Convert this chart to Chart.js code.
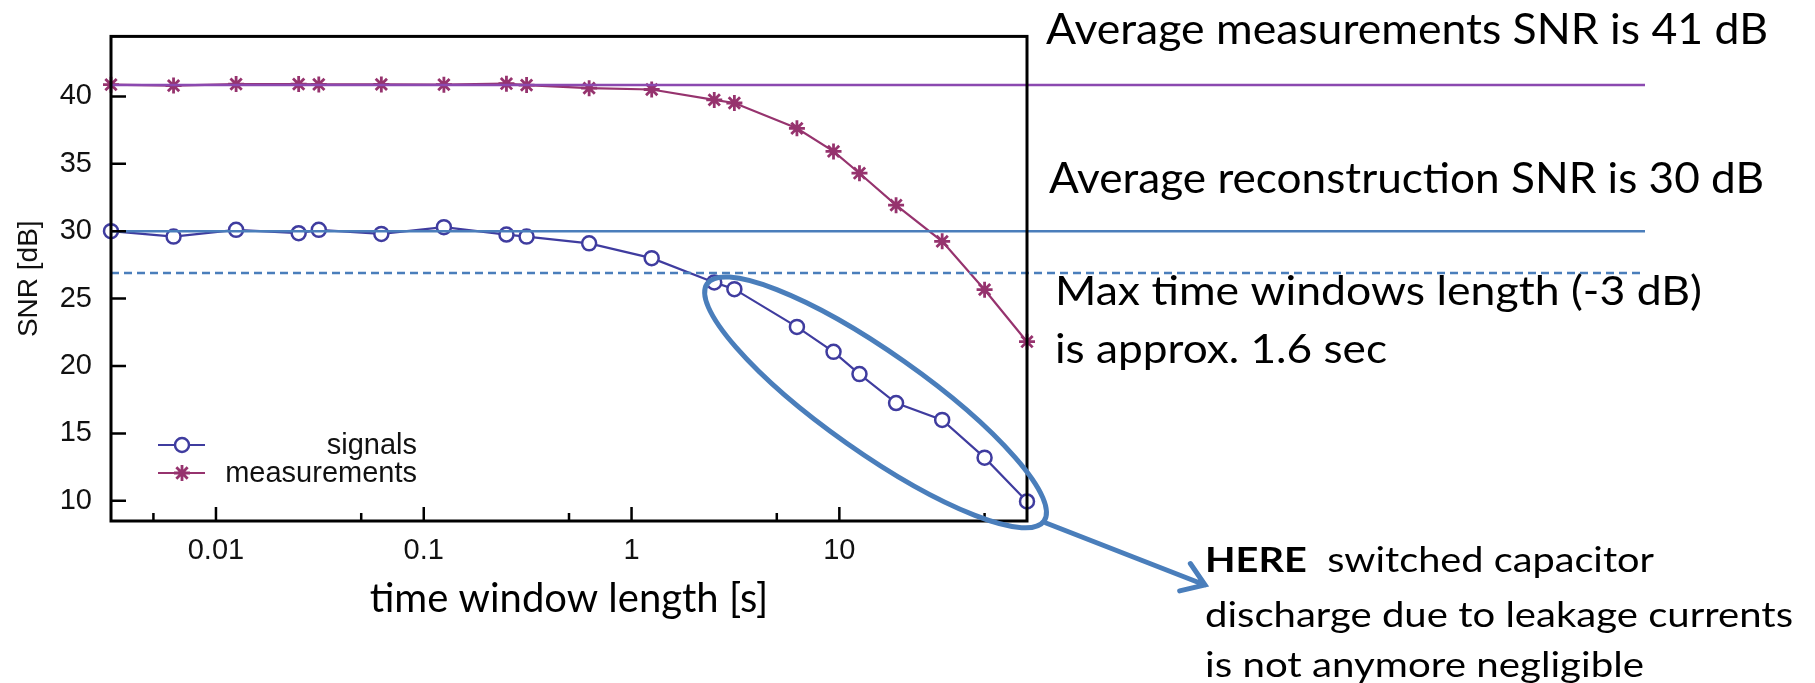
<!DOCTYPE html>
<html>
<head>
<meta charset="utf-8">
<title>SNR vs time window length</title>
<script src="https://cdn.jsdelivr.net/npm/chart.js@4.4.1/dist/chart.umd.min.js"></script>
<style>
  html, body { margin: 0; padding: 0; background: #fff; }
  #wrap { position: relative; width: 1815px; height: 683px; }
</style>
</head>
<body>
<div id="wrap"><canvas id="snrChart" width="1815" height="683"></canvas></div>
<script>
// time window lengths [s]
const windowLengths = [0.003125, 0.00625, 0.0125, 0.025, 0.03125, 0.0625, 0.125, 0.25, 0.3125, 0.625,
  1.25, 2.5, 3.125, 6.25, 9.375, 12.5, 18.75, 31.25, 50, 80];
// SNR [dB]
const signalsSnr = [30.0, 29.6, 30.1, 29.85, 30.1, 29.8, 30.3, 29.75, 29.6, 29.1,
  28.0, 26.2, 25.7, 22.9, 21.05, 19.4, 17.25, 16.0, 13.2, 9.95];
const measurementsSnr = [40.87, 40.8, 40.91, 40.91, 40.89, 40.89, 40.87, 40.94, 40.84, 40.61,
  40.51, 39.74, 39.51, 37.63, 35.92, 34.3, 31.93, 29.25, 25.66, 21.8];
// reference levels
const avgMeasurementsSnr = 40.85;
const avgReconstructionSnr = 30;
const minus3dBLevel = 26.9;
// axes
const yTickValues = [10, 15, 20, 25, 30, 35, 40];
const xTickValues = [0.01, 0.1, 1, 10];
const xMinorTickValues = [0.005, 0.05, 0.5, 5, 50];
const yAxisTitle = 'SNR [dB]';
// points the callout ellipse is stretched between (data space)
const ellipseFrom = { x: 2.31, y: 26.1 };
const ellipseTo = { x: 96.6, y: 8.5 };

const SIG_COLOR = '#3f3c9f';
const MEAS_COLOR = '#96336e';
const NOTE_BLUE = '#4a7ebb';
const AVG_PURPLE = '#8b49b0';
const PLOT_FONT = "'Liberation Sans', Arial, sans-serif";
const NOTE_FONT = "Lato, 'Open Sans', sans-serif";

const notes = [
  { parts: [['Average measurements SNR is 41 dB', 400]], left: 1046, base: 44, width: 722, size: 43 },
  { parts: [['Average reconstruction SNR is 30 dB', 400]], left: 1049, base: 192.5, width: 715, size: 43 },
  { parts: [['Max time windows length (-3 dB)', 400]], left: 1055, base: 305, width: 647, size: 41 },
  { parts: [['is approx. 1.6 sec', 400]], left: 1055, base: 363, width: 332, size: 41 },
  { parts: [['HERE', 700], ['  switched capacitor', 400]], left: 1205, base: 572, width: 449, size: 34 },
  { parts: [['discharge due to leakage currents', 400]], left: 1205, base: 627, width: 588, size: 34 },
  { parts: [['is not anymore negligible', 400]], left: 1205, base: 677, width: 439, size: 34 },
];

function drawNote(ctx, note) {
  ctx.save();
  ctx.fillStyle = '#000';
  ctx.textAlign = 'left';
  ctx.textBaseline = 'alphabetic';
  let total = 0;
  note.parts.forEach(p => {
    ctx.font = p[1] + ' ' + note.size + 'px ' + NOTE_FONT;
    total += ctx.measureText(p[0]).width;
  });
  ctx.translate(note.left, note.base);
  ctx.scale(note.width / total, 1);
  let cx = 0;
  note.parts.forEach(p => {
    ctx.font = p[1] + ' ' + note.size + 'px ' + NOTE_FONT;
    ctx.fillText(p[0], cx, 0);
    cx += ctx.measureText(p[0]).width;
  });
  ctx.restore();
}

function marker(ctx, style, r, px, py) {
  if (Chart.helpers && Chart.helpers.drawPoint) {
    Chart.helpers.drawPoint(ctx, { pointStyle: style, radius: r, rotation: 0, borderWidth: ctx.lineWidth }, px, py);
    return;
  }
  ctx.beginPath();
  if (style === 'circle') {
    ctx.arc(px, py, r, 0, Math.PI * 2);
    ctx.fill();
  } else {
    for (let k = 0; k < 4; k++) {
      const ang = k * Math.PI / 4;
      ctx.moveTo(px - r * Math.cos(ang), py - r * Math.sin(ang));
      ctx.lineTo(px + r * Math.cos(ang), py + r * Math.sin(ang));
    }
  }
  ctx.stroke();
}

const overlay = {
  id: 'overlay',
  afterDatasetsDraw(chart) {
    const { ctx, chartArea: a, scales: { y } } = chart;
    ctx.save();
    const refLine = (val, color, dash, w) => {
      const py = y.getPixelForValue(val);
      ctx.beginPath();
      ctx.setLineDash(dash);
      ctx.strokeStyle = color;
      ctx.lineWidth = w;
      ctx.moveTo(a.left, py);
      ctx.lineTo(1645, py);
      ctx.stroke();
    };
    refLine(avgMeasurementsSnr, AVG_PURPLE, [], 2.5);
    refLine(avgReconstructionSnr, NOTE_BLUE, [], 2.5);
    refLine(minus3dBLevel, NOTE_BLUE, [8, 5], 2.5);
    ctx.restore();
  },
  afterDraw(chart) {
    const { ctx, chartArea: a, scales: { x, y } } = chart;
    ctx.save();
    ctx.strokeStyle = '#000';
    ctx.lineWidth = 2.5;
    ctx.setLineDash([]);
    // ticks point inwards, gnuplot style
    ctx.beginPath();
    yTickValues.forEach(v => {
      const py = y.getPixelForValue(v);
      ctx.moveTo(a.left, py); ctx.lineTo(a.left + 15, py);
    });
    xTickValues.forEach(v => {
      const px = x.getPixelForValue(v);
      ctx.moveTo(px, a.bottom); ctx.lineTo(px, a.bottom - 14);
    });
    xMinorTickValues.forEach(v => {
      const px = x.getPixelForValue(v);
      ctx.moveTo(px, a.bottom); ctx.lineTo(px, a.bottom - 8);
    });
    ctx.stroke();
    ctx.lineWidth = 3;
    ctx.strokeRect(a.left, a.top, a.right - a.left, a.bottom - a.top);

    // y axis title
    ctx.save();
    ctx.translate(29, (a.top + a.bottom) / 2);
    ctx.rotate(-Math.PI / 2);
    ctx.font = '28px ' + PLOT_FONT;
    ctx.fillStyle = '#111';
    ctx.textAlign = 'center';
    ctx.textBaseline = 'middle';
    ctx.fillText(yAxisTitle, 0, 0);
    ctx.restore();

    // legend, bottom left inside the frame
    ctx.font = '29px ' + PLOT_FONT;
    ctx.textAlign = 'right';
    ctx.textBaseline = 'middle';
    chart.data.datasets.forEach((ds, i) => {
      const ly = a.bottom - 76 + i * 28;
      ctx.strokeStyle = ds.borderColor;
      ctx.lineWidth = 2;
      ctx.beginPath();
      ctx.moveTo(a.left + 47, ly); ctx.lineTo(a.left + 94, ly);
      ctx.stroke();
      ctx.fillStyle = '#fff';
      ctx.lineWidth = ds.pointBorderWidth;
      marker(ctx, ds.pointStyle, ds.pointRadius, a.left + 71, ly);
      ctx.fillStyle = '#111';
      ctx.fillText(ds.label, a.left + 306, ly + 1);
    });

    // callout ellipse around the signals drop
    const p1 = { x: x.getPixelForValue(ellipseFrom.x), y: y.getPixelForValue(ellipseFrom.y) };
    const p2 = { x: x.getPixelForValue(ellipseTo.x), y: y.getPixelForValue(ellipseTo.y) };
    const cx = (p1.x + p2.x) / 2, cy = (p1.y + p2.y) / 2;
    const semiMajor = Math.hypot(p2.x - p1.x, p2.y - p1.y) / 2;
    const tilt = Math.atan2(p2.y - p1.y, p2.x - p1.x);
    ctx.strokeStyle = NOTE_BLUE;
    ctx.lineWidth = 5;
    ctx.beginPath();
    ctx.ellipse(cx, cy, semiMajor, 50, tilt, 0, Math.PI * 2);
    ctx.stroke();

    // arrow to the explanation
    const sx = p2.x + 2, sy = p2.y + 2, tx = 1205, ty = 585;
    const ang = Math.atan2(ty - sy, tx - sx);
    ctx.lineCap = 'round';
    ctx.beginPath();
    ctx.moveTo(sx, sy); ctx.lineTo(tx, ty);
    ctx.moveTo(tx - 26 * Math.cos(ang - 0.6), ty - 26 * Math.sin(ang - 0.6));
    ctx.lineTo(tx, ty);
    ctx.lineTo(tx - 26 * Math.cos(ang + 0.6), ty - 26 * Math.sin(ang + 0.6));
    ctx.stroke();
    ctx.restore();

    notes.forEach(n => drawNote(ctx, n));
  }
};

new Chart(document.getElementById('snrChart'), {
  type: 'line',
  data: {
    datasets: [
      {
        label: 'signals',
        data: windowLengths.map((t, i) => ({ x: t, y: signalsSnr[i] })),
        borderColor: SIG_COLOR,
        borderWidth: 2.2,
        pointStyle: 'circle',
        pointRadius: 7,
        pointBorderWidth: 2.5,
        pointBorderColor: SIG_COLOR,
        pointBackgroundColor: '#fff',
        tension: 0,
        clip: false,
      },
      {
        label: 'measurements',
        data: windowLengths.map((t, i) => ({ x: t, y: measurementsSnr[i] })),
        borderColor: MEAS_COLOR,
        borderWidth: 2.2,
        pointStyle: 'star',
        pointRadius: 8,
        pointBorderWidth: 2.8,
        pointBorderColor: MEAS_COLOR,
        pointBackgroundColor: MEAS_COLOR,
        tension: 0,
        clip: false,
      },
    ],
  },
  options: {
    responsive: false,
    devicePixelRatio: 1,
    animation: false,
    layout: { padding: { left: 0, top: 10, right: 788, bottom: 0 } },
    plugins: { legend: { display: false }, tooltip: { enabled: false } },
    scales: {
      x: {
        type: 'logarithmic',
        min: windowLengths[0],
        max: windowLengths[windowLengths.length - 1],
        grid: { display: false, drawTicks: false },
        border: { display: false },
        afterBuildTicks: s => { s.ticks = xTickValues.map(v => ({ value: v })); },
        afterFit: s => { s.height = 162; },
        ticks: {
          autoSkip: false,
          maxRotation: 0,
          padding: 13,
          color: '#111',
          font: { family: PLOT_FONT, size: 29 },
          callback: v => String(v),
        },
        title: {
          display: true,
          text: 'time window length [s]',
          color: '#000',
          font: { family: NOTE_FONT, size: 40 },
          padding: { top: 0, bottom: 60 },
        },
      },
      y: {
        min: 8.5,
        max: 44.45,
        grid: { display: false, drawTicks: false },
        border: { display: false },
        afterBuildTicks: s => { s.ticks = yTickValues.map(v => ({ value: v })); },
        afterFit: s => { s.width = 111; },
        ticks: {
          padding: 19,
          color: '#111',
          font: { family: PLOT_FONT, size: 29 },
        },
        title: { display: false },
      },
    },
  },
  plugins: [overlay],
});
</script>
</body>
</html>
